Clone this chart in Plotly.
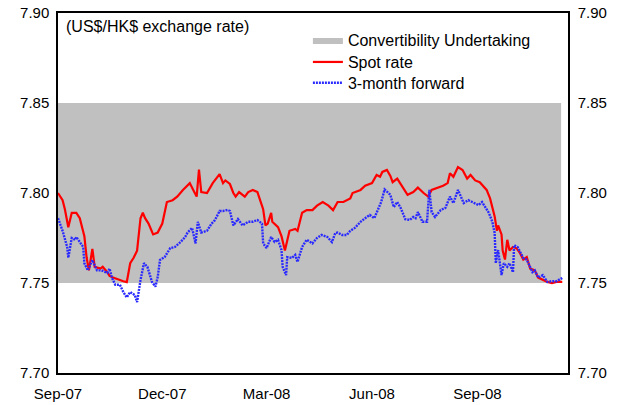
import plotly.graph_objects as go

# ---------------- data ----------------
spot_dates = [
    "2007-09-01", "2007-09-05", "2007-09-07", "2007-09-10", "2007-09-13", "2007-09-17", "2007-09-20",
    "2007-09-24", "2007-09-26", "2007-09-28", "2007-10-01", "2007-10-03", "2007-10-08", "2007-10-10",
    "2007-10-14", "2007-10-16", "2007-10-19", "2007-10-23", "2007-10-28", "2007-10-31", "2007-11-03",
    "2007-11-06", "2007-11-09", "2007-11-12", "2007-11-14", "2007-11-16", "2007-11-19", "2007-11-23",
    "2007-11-27", "2007-12-01", "2007-12-05", "2007-12-10", "2007-12-14", "2007-12-19", "2007-12-23",
    "2007-12-25", "2007-12-28", "2007-12-31", "2008-01-02", "2008-01-04", "2008-01-09", "2008-01-14",
    "2008-01-20", "2008-01-23", "2008-01-25", "2008-01-29", "2008-02-01", "2008-02-03", "2008-02-06",
    "2008-02-11", "2008-02-14", "2008-02-18", "2008-02-22", "2008-02-24", "2008-02-27", "2008-02-29",
    "2008-03-02", "2008-03-05", "2008-03-06", "2008-03-11", "2008-03-14", "2008-03-17", "2008-03-21",
    "2008-03-26", "2008-03-28", "2008-04-01", "2008-04-05", "2008-04-10", "2008-04-14", "2008-04-19",
    "2008-04-24", "2008-04-28", "2008-05-02", "2008-05-07", "2008-05-13", "2008-05-15", "2008-05-22",
    "2008-05-26", "2008-06-01", "2008-06-05", "2008-06-08", "2008-06-10", "2008-06-14", "2008-06-17",
    "2008-06-19", "2008-06-23", "2008-06-28", "2008-07-02", "2008-07-07", "2008-07-11", "2008-07-16",
    "2008-07-20", "2008-07-23", "2008-07-28", "2008-08-02", "2008-08-06", "2008-08-08", "2008-08-11",
    "2008-08-15", "2008-08-19", "2008-08-23", "2008-08-26", "2008-08-30", "2008-09-03", "2008-09-06",
    "2008-09-09", "2008-09-12", "2008-09-14", "2008-09-16", "2008-09-18", "2008-09-19", "2008-09-22",
    "2008-09-23", "2008-09-25", "2008-09-27", "2008-09-29", "2008-10-02", "2008-10-05", "2008-10-08",
    "2008-10-11", "2008-10-14", "2008-10-17", "2008-10-21", "2008-10-24", "2008-10-28", "2008-11-01",
    "2008-11-05", "2008-11-09", "2008-11-14",
]
spot_rate = [
    7.800, 7.796, 7.791, 7.781, 7.789, 7.789, 7.786,
    7.776, 7.764, 7.757, 7.769, 7.759, 7.758, 7.759,
    7.756, 7.754, 7.753, 7.752, 7.751, 7.7505, 7.761,
    7.764, 7.768, 7.786, 7.789, 7.786, 7.783, 7.777,
    7.778, 7.783, 7.795, 7.796, 7.798, 7.8017, 7.804,
    7.8055, 7.8017, 7.798, 7.813, 7.8005, 7.800, 7.8055,
    7.8105, 7.8055, 7.807, 7.805, 7.800, 7.798, 7.8005,
    7.798, 7.8005, 7.8017, 7.8005, 7.797, 7.791, 7.782,
    7.783, 7.789, 7.784, 7.781, 7.776, 7.768, 7.779,
    7.780, 7.779, 7.789, 7.7905, 7.7905, 7.793, 7.795,
    7.793, 7.7905, 7.795, 7.795, 7.797, 7.800, 7.8017,
    7.804, 7.8055, 7.810, 7.809, 7.8117, 7.8128, 7.8095,
    7.806, 7.808, 7.8028, 7.799, 7.8005, 7.803, 7.800,
    7.798, 7.8017, 7.8028, 7.804, 7.8055, 7.811, 7.809,
    7.8144, 7.8128, 7.808, 7.810, 7.807, 7.806, 7.804,
    7.8017, 7.797, 7.7917, 7.787, 7.779, 7.782, 7.777,
    7.768, 7.763, 7.774, 7.768, 7.770, 7.7694, 7.7667,
    7.763, 7.7644, 7.758, 7.757, 7.753, 7.7517, 7.7506,
    7.750, 7.7506, 7.7506,
]

fwd_dates = [
    "2007-09-01", "2007-09-04", "2007-09-05", "2007-09-09", "2007-09-10", "2007-09-13", "2007-09-16",
    "2007-09-17", "2007-09-20", "2007-09-23", "2007-09-24", "2007-09-27", "2007-10-01", "2007-10-05",
    "2007-10-09", "2007-10-14", "2007-10-16", "2007-10-18", "2007-10-21", "2007-10-25", "2007-10-28",
    "2007-10-31", "2007-11-03", "2007-11-07", "2007-11-09", "2007-11-12", "2007-11-15", "2007-11-18",
    "2007-11-22", "2007-11-25", "2007-11-27", "2007-11-29", "2007-12-03", "2007-12-08", "2007-12-12",
    "2007-12-17", "2007-12-21", "2007-12-23", "2007-12-27", "2007-12-30", "2008-01-01", "2008-01-04",
    "2008-01-09", "2008-01-13", "2008-01-16", "2008-01-20", "2008-01-23", "2008-01-27", "2008-01-29",
    "2008-02-01", "2008-02-05", "2008-02-09", "2008-02-14", "2008-02-18", "2008-02-22", "2008-02-26",
    "2008-02-27", "2008-03-01", "2008-03-05", "2008-03-08", "2008-03-11", "2008-03-14", "2008-03-15",
    "2008-03-18", "2008-03-19", "2008-03-23", "2008-03-26", "2008-03-28", "2008-04-01", "2008-04-05",
    "2008-04-10", "2008-04-14", "2008-04-18", "2008-04-23", "2008-04-27", "2008-04-30", "2008-05-02",
    "2008-05-06", "2008-05-10", "2008-05-13", "2008-05-17", "2008-05-22", "2008-05-26", "2008-05-30",
    "2008-06-03", "2008-06-06", "2008-06-09", "2008-06-12", "2008-06-15", "2008-06-17", "2008-06-19",
    "2008-06-20", "2008-06-23", "2008-06-26", "2008-06-30", "2008-07-04", "2008-07-07", "2008-07-09",
    "2008-07-11", "2008-07-15", "2008-07-19", "2008-07-21", "2008-07-23", "2008-07-26", "2008-07-31",
    "2008-08-04", "2008-08-08", "2008-08-11", "2008-08-15", "2008-08-20", "2008-08-24", "2008-08-29",
    "2008-09-02", "2008-09-05", "2008-09-08", "2008-09-11", "2008-09-14", "2008-09-16", "2008-09-17",
    "2008-09-19", "2008-09-22", "2008-09-24", "2008-09-27", "2008-09-29", "2008-10-02", "2008-10-03",
    "2008-10-06", "2008-10-11", "2008-10-14", "2008-10-19", "2008-10-21", "2008-10-24", "2008-10-28",
    "2008-11-01", "2008-11-05", "2008-11-09", "2008-11-14",
]
forward_rate = [
    7.786, 7.781, 7.779, 7.770, 7.764, 7.775, 7.774,
    7.7756, 7.7728, 7.770, 7.761, 7.757, 7.7628, 7.757,
    7.757, 7.7556, 7.758, 7.753, 7.749, 7.749, 7.745,
    7.742, 7.745, 7.7433, 7.7394, 7.7517, 7.761, 7.759,
    7.7506, 7.748, 7.7533, 7.7628, 7.7644, 7.7694, 7.770,
    7.7728, 7.7756, 7.778, 7.7806, 7.772, 7.784, 7.778,
    7.779, 7.783, 7.785, 7.790, 7.790, 7.7906, 7.790,
    7.782, 7.7855, 7.782, 7.784, 7.784, 7.785, 7.783,
    7.772, 7.7694, 7.7756, 7.7728, 7.774, 7.7683, 7.759,
    7.7544, 7.7644, 7.7639, 7.7656, 7.7617, 7.770, 7.774,
    7.772, 7.775, 7.7767, 7.7756, 7.7728, 7.7778, 7.778,
    7.7767, 7.7767, 7.779, 7.7806, 7.784, 7.786, 7.7878,
    7.786, 7.7906, 7.795, 7.802, 7.8005, 7.799, 7.7944,
    7.7922, 7.795, 7.7917, 7.7855, 7.785, 7.7867, 7.786,
    7.7894, 7.784, 7.784, 7.8017, 7.7894, 7.7867, 7.7906,
    7.7917, 7.798, 7.7944, 7.8017, 7.7944, 7.796, 7.7944,
    7.7933, 7.795, 7.7922, 7.7889, 7.784, 7.7778, 7.761,
    7.7683, 7.7544, 7.761, 7.759, 7.761, 7.756, 7.771,
    7.770, 7.7639, 7.763, 7.756, 7.757, 7.753, 7.7544,
    7.7506, 7.751, 7.751, 7.7528,
]

band_low = 7.75
band_high = 7.85
band_start = "2007-09-01"
band_end = "2008-11-13"

x_tick_dates = ["2007-09-01", "2007-12-01", "2008-03-01", "2008-06-01", "2008-09-01"]
x_tick_labels = ["Sep-07", "Dec-07", "Mar-08", "Jun-08", "Sep-08"]
y_ticks = [7.70, 7.75, 7.80, 7.85, 7.90]
y_tick_labels = ["7.70", "7.75", "7.80", "7.85", "7.90"]

# ---------------- figure ----------------
FONT = "Arial, 'Liberation Sans', sans-serif"

fig = go.Figure()

fig.add_trace(go.Scatter(
    x=[band_start, band_end, band_end, band_start, band_start],
    y=[band_low, band_low, band_high, band_high, band_low],
    fill="toself", fillcolor="#C0C0C0", mode="lines",
    line=dict(width=0, color="#C0C0C0"),
    name="Convertibility Undertaking", hoverinfo="skip", legend="legend",
))

fig.add_trace(go.Scatter(
    x=spot_dates, y=spot_rate, mode="lines",
    line=dict(color="#FF0000", width=2.2),
    name="Spot rate", legend="legend2",
))

fig.add_trace(go.Scatter(
    x=fwd_dates, y=forward_rate, mode="lines",
    line=dict(color="#2A2AFF", width=2.4, dash="2px,1px"),
    name="3-month forward", legend="legend3",
))

# invisible trace for the right-hand axis
fig.add_trace(go.Scatter(
    x=[spot_dates[0]], y=[spot_rate[0]], yaxis="y2", mode="lines",
    showlegend=False, hoverinfo="skip", line=dict(width=0),
))

axis_common = dict(
    showgrid=False, zeroline=False, automargin=False,
    showline=True, linecolor="#000000", linewidth=1.5,
    ticklabeloverflow="allow",
    tickfont=dict(family=FONT, size=15, color="#000000"),
)

legend_common = dict(
    x=0.490, xanchor="left", yanchor="top",
    bgcolor="rgba(0,0,0,0)", borderwidth=0,
    font=dict(family=FONT, size=16, color="#000000"),
)

fig.update_layout(
    width=625, height=405,
    margin=dict(l=58, r=57, t=13, b=32),
    paper_bgcolor="white", plot_bgcolor="white",
    font=dict(family=FONT, size=15, color="#000000"),
    xaxis=dict(
        type="date", range=["2007-09-01", "2008-11-19"],
        tickvals=x_tick_dates, ticktext=x_tick_labels,
        ticks="outside", ticklen=6, tickcolor="rgba(0,0,0,0)",
        mirror=True, **axis_common,
    ),
    yaxis=dict(
        range=[7.70, 7.90], tickvals=y_ticks, ticktext=y_tick_labels,
        ticks="outside", ticklen=4, tickcolor="rgba(0,0,0,0)",
        **axis_common,
    ),
    yaxis2=dict(
        range=[7.70, 7.90], tickvals=y_ticks, ticktext=y_tick_labels,
        overlaying="y", side="right", anchor="x",
        ticks="outside", ticklen=5, tickcolor="rgba(0,0,0,0)",
        **axis_common,
    ),
    legend=dict(y=0.972, **legend_common),
    legend2=dict(y=0.911, **legend_common),
    legend3=dict(y=0.853, **legend_common),
    showlegend=True,
    annotations=[dict(
        text="(US$/HK$ exchange rate)", xref="paper", yref="paper",
        x=0.0118, y=0.963, xanchor="left", yanchor="middle", showarrow=False,
        font=dict(family=FONT, size=16, color="#000000"),
    )],
)

fig.write_html(
    "out.html",
    config={"displayModeBar": False},
    post_script="document.body.style.margin='0';document.body.style.overflow='hidden';",
)
